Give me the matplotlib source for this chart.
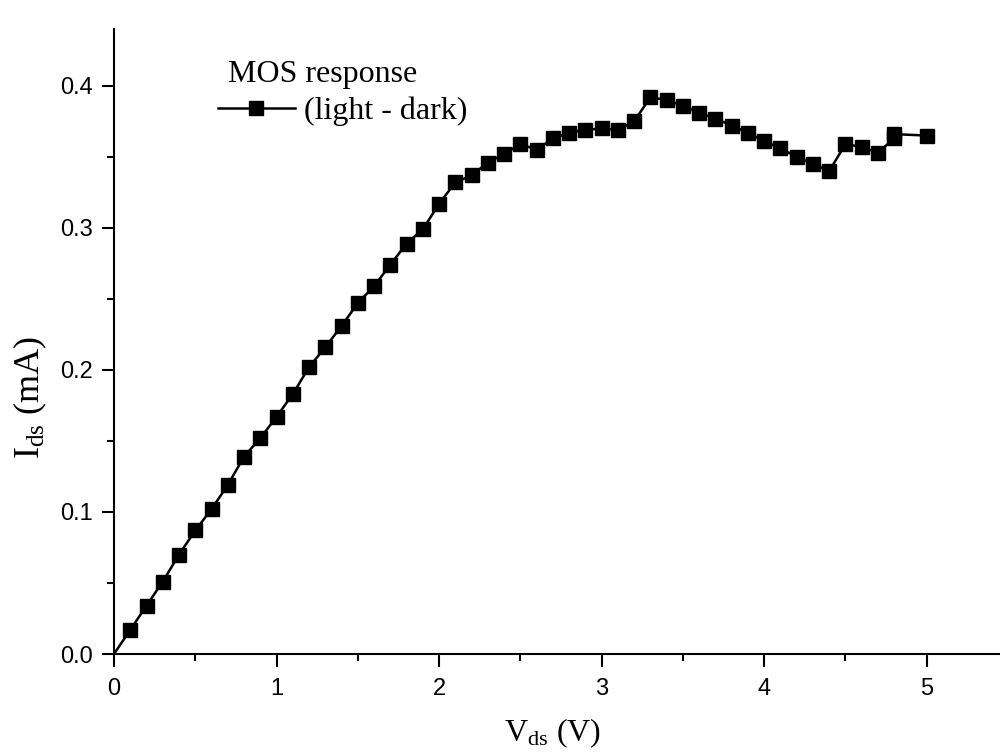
import matplotlib
matplotlib.use("Agg")
import matplotlib.pyplot as plt

vds = [0.0, 0.1, 0.2, 0.3, 0.4, 0.5, 0.6, 0.7, 0.8, 0.9,
       1.0, 1.1, 1.2, 1.3, 1.4, 1.5, 1.6, 1.7, 1.8, 1.9,
       2.0, 2.1, 2.2, 2.3, 2.4, 2.5, 2.6, 2.7, 2.8, 2.9,
       3.0, 3.1, 3.2, 3.3, 3.4, 3.5, 3.6, 3.7, 3.8, 3.9,
       4.0, 4.1, 4.2, 4.3, 4.4, 4.5, 4.6, 4.7, 4.8, 4.8, 5.0]
ids = [0.000, 0.017, 0.034, 0.051, 0.070, 0.087, 0.102, 0.119, 0.139, 0.152,
       0.167, 0.183, 0.202, 0.216, 0.231, 0.247, 0.259, 0.274, 0.289, 0.299,
       0.317, 0.332, 0.337, 0.346, 0.352, 0.359, 0.355, 0.363, 0.367, 0.369,
       0.370, 0.369, 0.375, 0.392, 0.390, 0.386, 0.381, 0.377, 0.372, 0.367,
       0.361, 0.356, 0.350, 0.345, 0.340, 0.359, 0.357, 0.353, 0.363, 0.366, 0.365]

x_ticks = [0, 1, 2, 3, 4, 5]
y_ticks = [0.0, 0.1, 0.2, 0.3, 0.4]
x_label = r"V$_{\mathrm{ds}}$ (V)"
y_label = r"I$_{\mathrm{ds}}$ (mA)"
legend_title = "MOS response"
series_label = "(light - dark)"

plt.rcParams["mathtext.fontset"] = "custom"
plt.rcParams["mathtext.rm"] = "Liberation Serif"
plt.rcParams["mathtext.it"] = "Liberation Serif:italic"

fig = plt.figure(figsize=(10, 7.56), dpi=100)
ax = fig.add_axes([0.114, 0.1349, 0.894, 0.8267])

ax.plot(vds, ids, color="black", lw=1.8, marker="s", markersize=9.5,
        markevery=list(range(1, len(vds))), label=series_label, clip_on=False)

ax.set_xlim(0, 5.5)
ax.set_ylim(0, 0.44)
ax.set_xticks(x_ticks)
ax.set_yticks(y_ticks)
ax.set_xticks([0.5, 1.5, 2.5, 3.5, 4.5, 5.5], minor=True)
ax.set_yticks([0.05, 0.15, 0.25, 0.35], minor=True)
ax.set_xticklabels([str(t) for t in x_ticks])
ax.set_yticklabels([f"{t:.1f}" for t in y_ticks])

for s in ("top", "right"):
    ax.spines[s].set_visible(False)
for s in ("left", "bottom"):
    ax.spines[s].set_linewidth(1.5)

ax.tick_params(axis="both", which="major", direction="out", length=9, width=1.5,
               labelsize=17)
ax.tick_params(axis="both", which="minor", direction="out", length=5, width=1.5)
ax.tick_params(axis="x", which="major", pad=8)
ax.tick_params(axis="y", which="major", pad=6)
for lab in ax.get_xticklabels() + ax.get_yticklabels():
    lab.set_fontfamily("Liberation Sans")

ax.set_xlabel(x_label, fontsize=23, fontfamily="Liberation Serif")
ax.set_ylabel(y_label, fontsize=26, fontfamily="Liberation Serif")
ax.xaxis.set_label_coords(0.491, -0.10)
ax.yaxis.set_label_coords(-0.073, 0.41)

ax.text(0.1275, 0.928, legend_title, transform=ax.transAxes, ha="left", va="center",
        fontsize=23, fontfamily="Liberation Serif")
leg = ax.legend(loc="center left", frameon=False, bbox_to_anchor=(0.1163, 0.868),
                prop={"family": "Liberation Serif", "size": 23},
                handlelength=2.4, handletextpad=0.3, borderpad=0, borderaxespad=0)

fig.savefig("out.png", dpi=100)
